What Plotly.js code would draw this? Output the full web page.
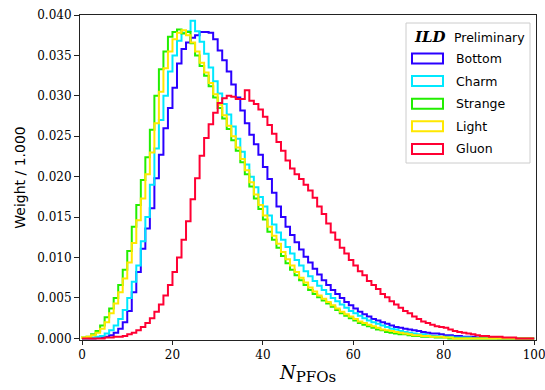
<!DOCTYPE html>
<html>
<head>
<meta charset="utf-8">
<script src="https://cdn.plot.ly/plotly-3.0.1.min.js"></script>
<style>html,body{margin:0;padding:0;background:#fff;}#chart{width:545px;height:390px;}</style>
</head>
<body>
<div id="chart"></div>
<script>
// Bin edges run 0..100 with width 1; values are the weights per bin (bins 0..99).
const seriesNames = ["Bottom", "Charm", "Strange", "Light", "Gluon"];
const seriesColors = ["#2a00ff", "#00e8ff", "#22ee00", "#ffe800", "#ff0033"];

const bottom = [0,0,0,0.0001,0.0001,0.0002,0.0004,0.0007,0.0012,0.0020,
0.0034,0.0057,0.0082,0.0111,0.0136,0.0161,0.0198,0.0227,0.0260,0.0285,
0.0310,0.0340,0.0358,0.0366,0.0372,0.0375,0.0379,0.0379,0.0378,0.0370,
0.0356,0.0344,0.0330,0.0314,0.0298,0.0282,0.0266,0.0252,0.0240,0.0227,
0.0212,0.0197,0.0180,0.0163,0.0150,0.0138,0.0128,0.0119,0.0110,0.0101,
0.0094,0.0086,0.0079,0.0072,0.0066,0.0060,0.0055,0.0050,0.0045,0.0041,
0.0037,0.0033,0.0030,0.0027,0.0024,0.0022,0.0020,0.0018,0.0016,0.0014,
0.0013,0.0012,0.0011,0.0010,0.0009,0.0008,0.0007,0.0006,0.0006,0.0005,
0.0004,0.0004,0.0003,0.0003,0.0002,0.0002,0.0002,0.0001,0.0001,0.0001,
0.0001,0.0001,0,0,0,0,0,0,0,0];

const charm = [0,0.0001,0.0001,0.0002,0.0003,0.0006,0.0010,0.0016,0.0024,0.0035,
0.0050,0.0070,0.0090,0.0120,0.0150,0.0190,0.0235,0.0270,0.0300,0.0330,
0.0350,0.0368,0.0378,0.0380,0.0393,0.0380,0.0367,0.0352,0.0335,0.0318,
0.0303,0.0290,0.0277,0.0262,0.0247,0.0231,0.0215,0.0200,0.0187,0.0175,
0.0163,0.0152,0.0141,0.0131,0.0122,0.0113,0.0105,0.0097,0.0090,0.0083,
0.0077,0.0071,0.0065,0.0060,0.0055,0.0050,0.0046,0.0042,0.0038,0.0034,
0.0031,0.0028,0.0025,0.0022,0.0020,0.0018,0.0016,0.0014,0.0012,0.0011,
0.0009,0.0008,0.0007,0.0006,0.0005,0.0005,0.0004,0.0003,0.0003,0.0002,
0.0002,0.0002,0.0001,0.0001,0.0001,0.0001,0,0,0,0,
0,0,0,0,0,0,0,0,0,0];

const strange = [0.0001,0.0002,0.0005,0.0009,0.0016,0.0026,0.0037,0.0050,0.0066,0.0085,
0.0108,0.0138,0.0165,0.0196,0.0224,0.0258,0.0300,0.0333,0.0355,0.0373,
0.0379,0.0382,0.0377,0.0379,0.0365,0.0350,0.0337,0.0325,0.0312,0.0298,
0.0285,0.0272,0.0259,0.0245,0.0232,0.0218,0.0203,0.0188,0.0173,0.0160,
0.0147,0.0132,0.0122,0.0112,0.0102,0.0093,0.0085,0.0078,0.0072,0.0066,
0.0060,0.0055,0.0051,0.0047,0.0043,0.0039,0.0035,0.0031,0.0028,0.0025,
0.0022,0.0019,0.0017,0.0015,0.0013,0.0011,0.0010,0.0008,0.0007,0.0006,
0.0005,0.0005,0.0004,0.0003,0.0003,0.0002,0.0002,0.0002,0.0001,0.0001,
0.0001,0,0,0,0,0,0,0,0,0,
0,0,0,0,0,0,0,0,0,0];

const light = [0.0001,0.0002,0.0004,0.0007,0.0012,0.0020,0.0031,0.0043,0.0057,0.0074,
0.0094,0.0118,0.0146,0.0173,0.0203,0.0230,0.0266,0.0305,0.0334,0.0355,
0.0370,0.0378,0.0381,0.0375,0.0366,0.0355,0.0341,0.0329,0.0316,0.0302,
0.0289,0.0276,0.0263,0.0250,0.0236,0.0222,0.0208,0.0193,0.0178,0.0165,
0.0152,0.0138,0.0127,0.0117,0.0107,0.0098,0.0090,0.0082,0.0075,0.0069,
0.0063,0.0058,0.0053,0.0049,0.0045,0.0041,0.0037,0.0033,0.0030,0.0027,
0.0024,0.0021,0.0019,0.0017,0.0015,0.0013,0.0011,0.0010,0.0009,0.0008,
0.0007,0.0006,0.0005,0.0004,0.0004,0.0003,0.0003,0.0002,0.0002,0.0002,
0.0001,0.0001,0,0,0,0,0,0,0,0,
0,0,0,0,0,0,0,0,0,0];

const gluon = [0,0,0,0,0,0.0001,0.0001,0.0002,0.0002,0.0003,
0.0005,0.0007,0.0010,0.0014,0.0019,0.0025,0.0033,0.0042,0.0053,0.0066,
0.0082,0.0100,0.0122,0.0145,0.0172,0.0198,0.0226,0.0248,0.0265,0.0279,
0.0291,0.0297,0.0300,0.0299,0.0296,0.0296,0.0307,0.0294,0.0290,0.0283,
0.0274,0.0264,0.0253,0.0243,0.0232,0.0220,0.0210,0.0203,0.0197,0.0190,
0.0183,0.0174,0.0163,0.0154,0.0142,0.0131,0.0122,0.0112,0.0105,0.0097,
0.0090,0.0083,0.0078,0.0071,0.0066,0.0061,0.0055,0.0051,0.0046,0.0042,
0.0038,0.0034,0.0031,0.0027,0.0024,0.0021,0.0019,0.0017,0.0015,0.0014,
0.0013,0.0011,0.0009,0.0008,0.0007,0.0006,0.0005,0.0004,0.0003,0.0003,
0.0002,0.0002,0.0002,0.0001,0.0001,0.0001,0,0,0,0];

const seriesValues = [bottom, charm, strange, light, gluon];
const xTickVals = [0, 20, 40, 60, 80, 100];
const yTickVals = [0, 0.005, 0.010, 0.015, 0.020, 0.025, 0.030, 0.035, 0.040];

function stepTrace(vals, color) {
  const x = [0], y = [0];
  for (let i = 0; i < vals.length; i++) { x.push(i); y.push(vals[i]); }
  x.push(vals.length); y.push(vals[vals.length - 1]);
  x.push(vals.length); y.push(0);
  return {x: x, y: y, type: "scatter", mode: "lines", line: {shape: "hv", color: color, width: 2}, showlegend: false, hoverinfo: "skip"};
}

const traces = seriesValues.map((v, i) => stepTrace(v, seriesColors[i]));

// plot area in px: left 80, right 536, top 15, bottom 340
const PL = 80, PR = 536, PT = 15, PB = 340;
const px = v => (v - PL) / (PR - PL);
const py = v => (PB - v) / (PB - PT);

const shapes = [{type: "rect", xref: "paper", yref: "paper", x0: px(406), x1: px(530), y0: py(163), y1: py(23),
  line: {color: "#cccccc", width: 1}, fillcolor: "rgba(255,255,255,0.8)", layer: "above"}];
const annotations = [
  {xref: "paper", yref: "paper", x: px(412), y: py(37), xanchor: "left", yanchor: "middle", showarrow: false,
   text: "<b><i>ILD</i></b>", font: {family: "DejaVu Serif", size: 15, color: "#000"}},
  {xref: "paper", yref: "paper", x: px(452), y: py(37), xanchor: "left", yanchor: "middle", showarrow: false,
   text: "Preliminary", font: {family: "DejaVu Sans", size: 12.5, color: "#000"}}
];
seriesNames.forEach((name, i) => {
  const cy = 58.5 + i * 22.6;
  shapes.push({type: "rect", xref: "paper", yref: "paper", x0: px(412), x1: px(443), y0: py(cy + 5), y1: py(cy - 5),
    line: {color: seriesColors[i], width: 2}, fillcolor: "rgba(0,0,0,0)", layer: "above"});
  annotations.push({xref: "paper", yref: "paper", x: px(454), y: py(cy), xanchor: "left", yanchor: "middle", showarrow: false,
    text: name, font: {family: "DejaVu Sans", size: 12.5, color: "#000"}});
});

const layout = {
  width: 545, height: 390,
  margin: {l: PL, r: 545 - PR, t: PT, b: 390 - PB},
  paper_bgcolor: "#fff", plot_bgcolor: "#fff",
  showlegend: false,
  xaxis: {range: [-0.45, 100.4], tickvals: xTickVals, ticktext: xTickVals.map(String), ticks: "outside", ticklen: 4, tickcolor: "#222",
    ticklabeloverflow: "allow",
    showline: true, linecolor: "#222", linewidth: 1, mirror: true, showgrid: false, zeroline: false,
    tickfont: {family: "DejaVu Serif", size: 12, color: "#000"},
    title: {text: "<i>N</i><sub><span style=\"font-size:15px\">PFOs</span></sub>", font: {family: "DejaVu Serif", size: 18, color: "#000"}, standoff: 4}},
  yaxis: {range: [-0.0002, 0.0400], tickvals: yTickVals, tickformat: ".3f", ticks: "outside", ticklen: 5, tickcolor: "#222",
    showline: true, linecolor: "#222", linewidth: 1, mirror: true, showgrid: false, zeroline: false,
    tickfont: {family: "DejaVu Serif", size: 12, color: "#000"},
    title: {text: "Weight / 1.000", font: {family: "DejaVu Sans", size: 14, color: "#000"}, standoff: 8}},
  shapes: shapes,
  annotations: annotations
};

Plotly.newPlot("chart", traces, layout, {displayModeBar: false, staticPlot: true});
</script>
</body>
</html>
